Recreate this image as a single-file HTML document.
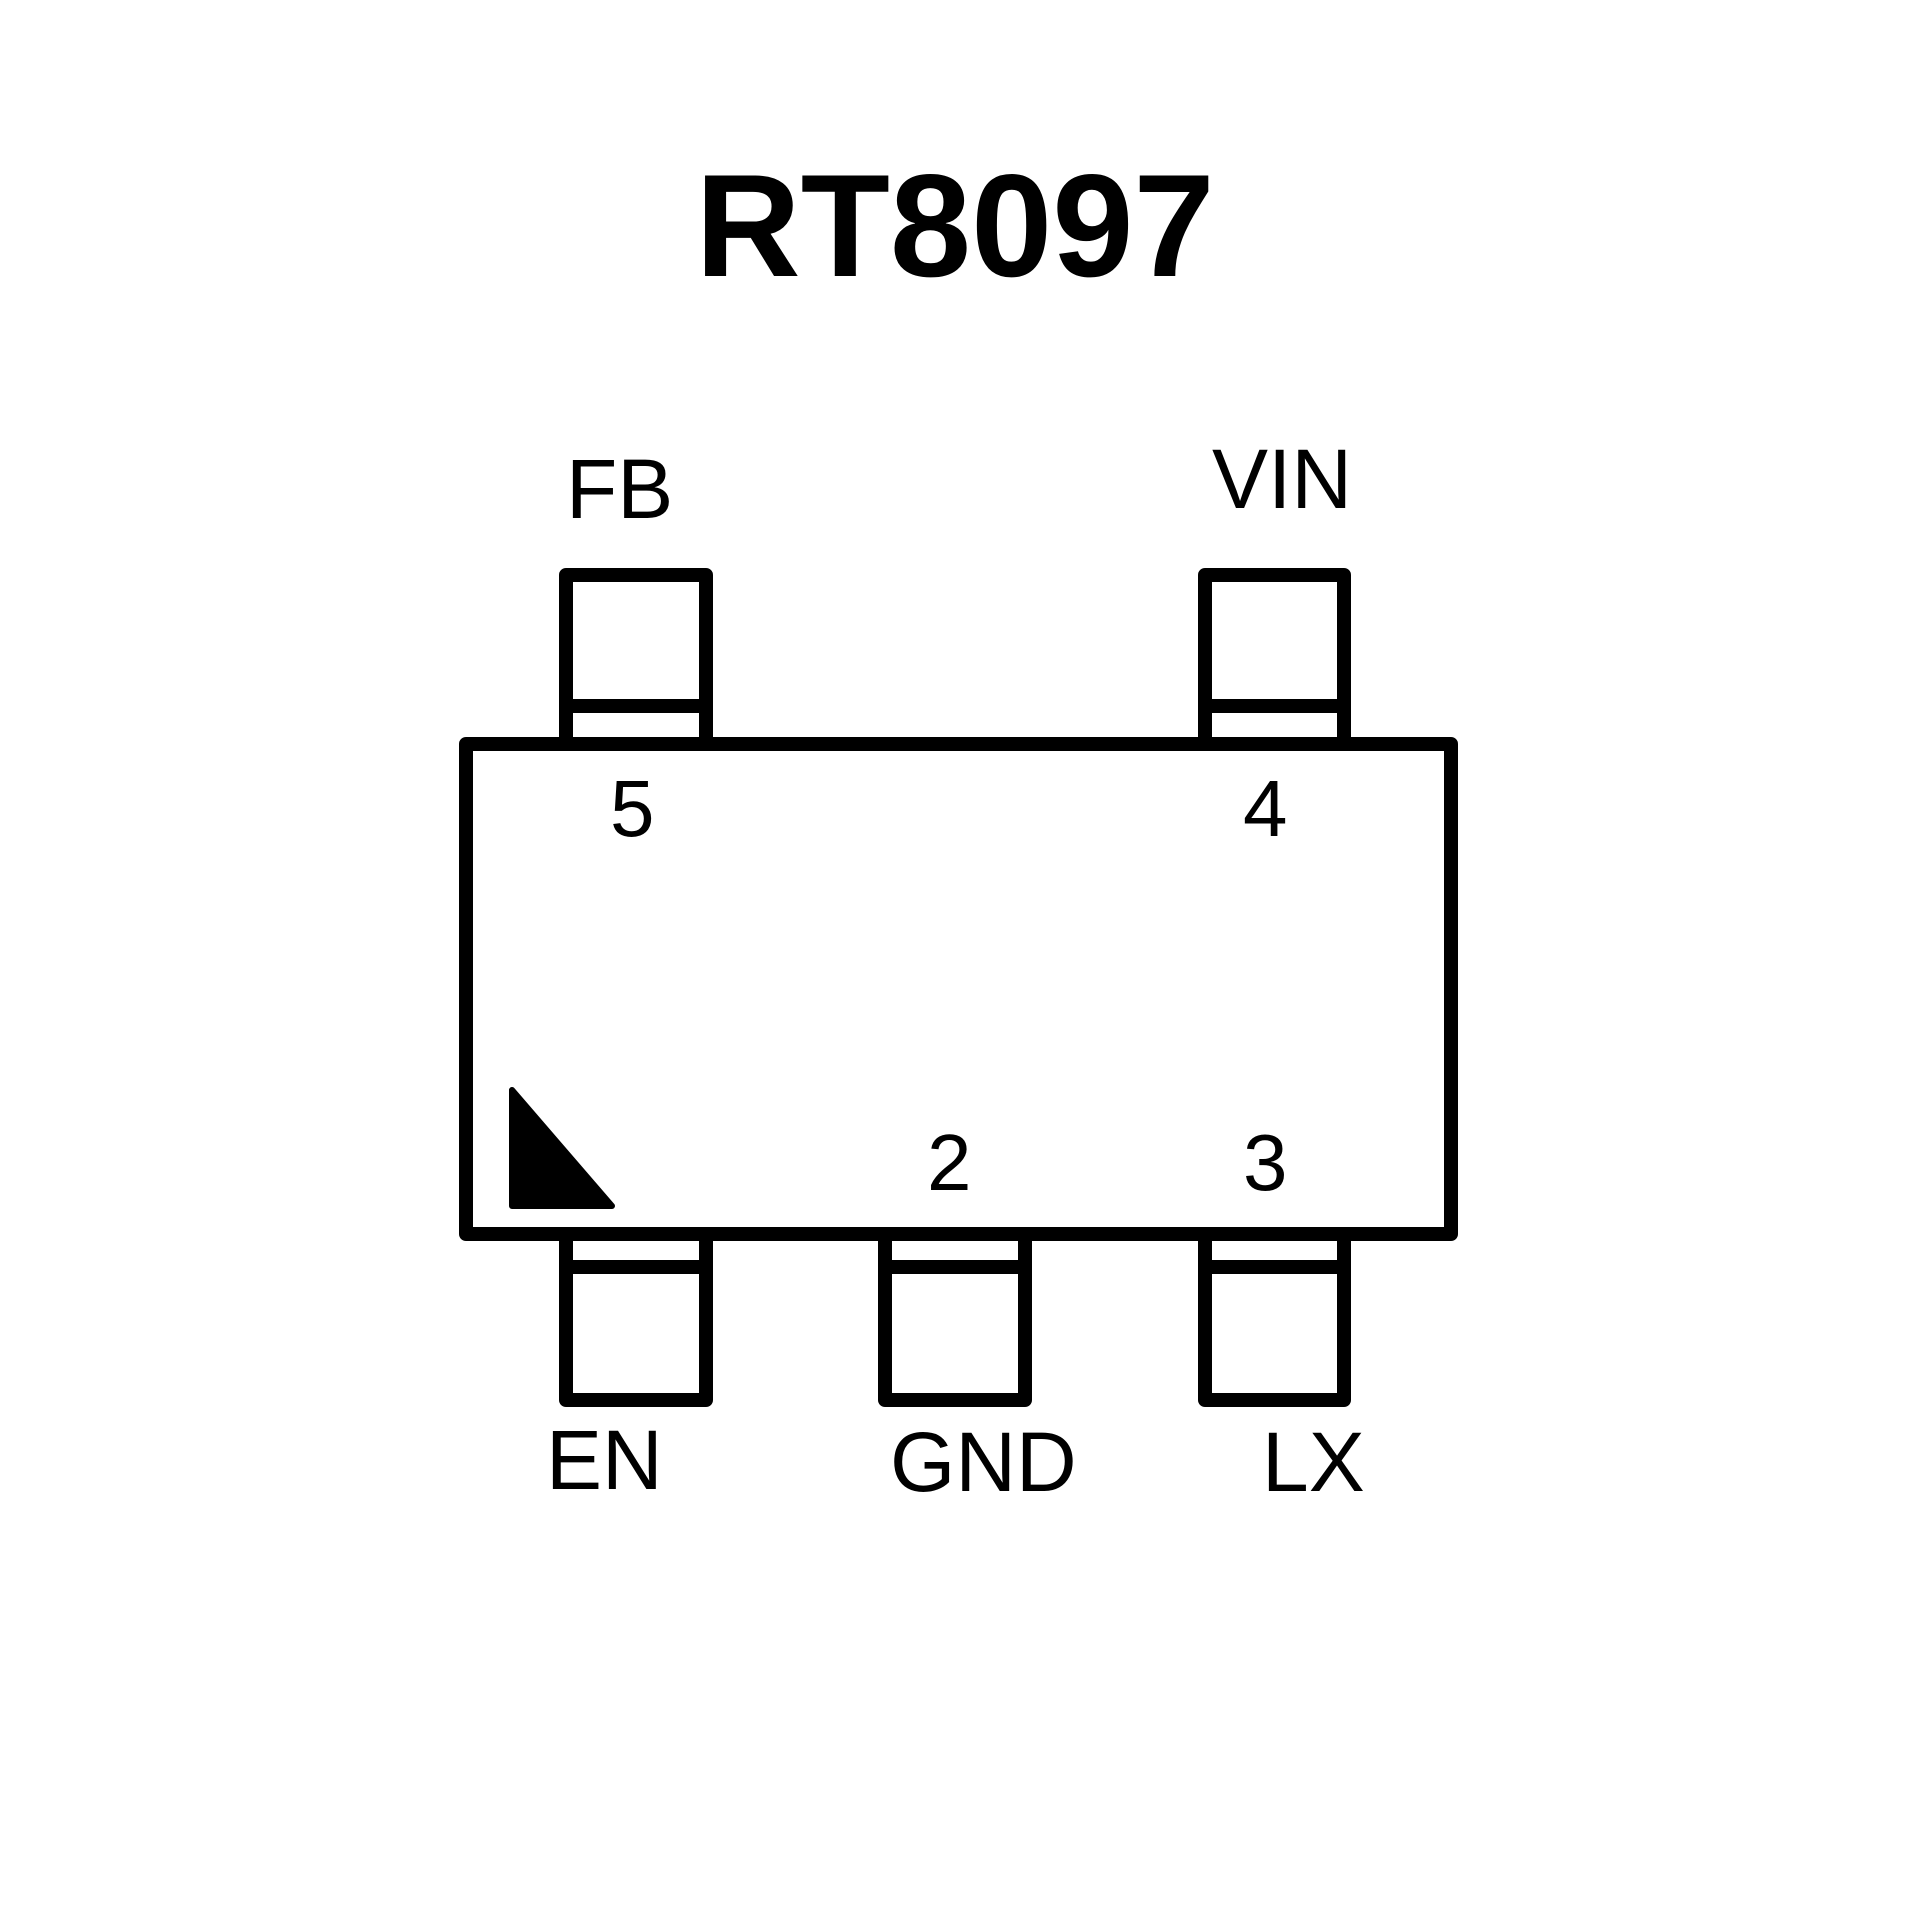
<!DOCTYPE html>
<html><head><style>html,body{margin:0;padding:0;background:#fff}</style></head>
<body>
<svg width="1920" height="1920" viewBox="0 0 1920 1920" xmlns="http://www.w3.org/2000/svg">
<rect width="1920" height="1920" fill="#fff"/>
<g fill="none" stroke="#000" stroke-width="14" stroke-linejoin="round">
<path d="M566 737 V575 H706 V737"/>
<line x1="566" y1="706" x2="706" y2="706"/>
<path d="M1205 737 V575 H1344 V737"/>
<line x1="1205" y1="706" x2="1344" y2="706"/>
<rect x="466" y="744" width="985" height="490"/>
<path d="M566 1241 V1400 H706 V1241"/>
<line x1="566" y1="1267" x2="706" y2="1267"/>
<path d="M885 1241 V1400 H1025 V1241"/>
<line x1="885" y1="1267" x2="1025" y2="1267"/>
<path d="M1205 1241 V1400 H1344 V1241"/>
<line x1="1205" y1="1267" x2="1344" y2="1267"/>
</g>
<polygon points="512,1090 512,1206 612,1206" fill="#000" stroke="#000" stroke-width="6" stroke-linejoin="round"/>
<g font-family="Liberation Sans, sans-serif" fill="#000">
<text x="955" y="276" font-size="146" font-weight="bold" text-anchor="middle">RT8097</text>
<text x="566" y="518" font-size="84">FB</text>
<text x="1212" y="508" font-size="84">VIN</text>
<text x="546" y="1489" font-size="84">EN</text>
<text x="890" y="1491" font-size="84">GND</text>
<text x="1262" y="1491" font-size="84">LX</text>
<text x="610" y="836" font-size="80">5</text>
<text x="1243" y="836" font-size="80">4</text>
<text x="927" y="1190" font-size="80">2</text>
<text x="1243" y="1190" font-size="80">3</text>
</g>
</svg>
</body></html>
